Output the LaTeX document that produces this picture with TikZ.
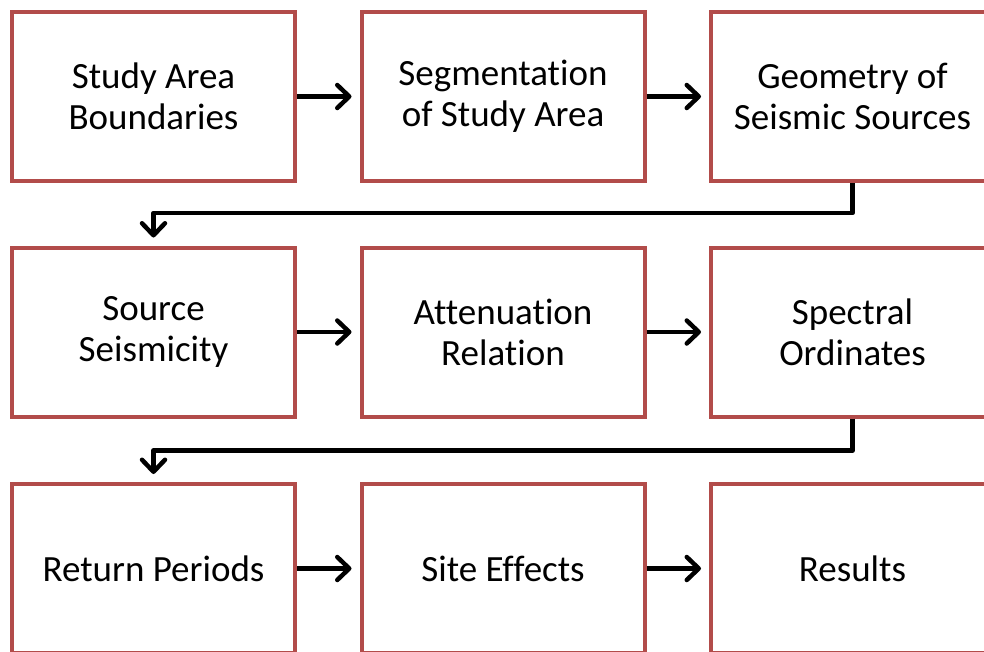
\documentclass[tikz,border=0pt]{standalone}
\usepackage{fontspec}
\setmainfont[Ligatures=NoCommon]{Carlito}
\usetikzlibrary{arrows.meta}
\definecolor{boxred}{RGB}{178,76,74}
\begin{document}
\begin{tikzpicture}[x=1pt,y=-1pt,
  stagebox/.style={draw=boxred, line width=4pt, fill=white, minimum width=283pt, minimum height=169pt,
    align=center, font=\fontsize{37}{41}\selectfont, inner sep=0pt},
  flow/.style={line width=4.5pt, shorten >=8pt, line join=round,
    -{Straight Barb[length=12pt, width=23pt, line cap=round, line join=round]}}]
\useasboundingbox (0,0) rectangle (984,651);
\node[stagebox] (a1) at (153.5,96.5) {Study Area\\Boundaries};
\node[stagebox] (a2) at (503,96.5) {Segmentation\\of Study Area};
\node[stagebox] (a3) at (852.5,96.5) {Geometry of\\Seismic Sources};
\node[stagebox] (b1) at (153.5,332) {Source\\Seismicity};
\node[stagebox] (b2) at (503,332) {Attenuation\\Relation};
\node[stagebox] (b3) at (852.5,332) {Spectral\\Ordinates};
\node[stagebox] (c1) at (153.5,568.5) {Return Periods};
\node[stagebox] (c2) at (503,568.5) {Site Effects};
\node[stagebox] (c3) at (852.5,568.5) {Results};
\draw[flow] (a1.east) -- (a2.west);
\draw[flow] (a2.east) -- (a3.west);
\draw[flow] (b1.east) -- (b2.west);
\draw[flow] (b2.east) -- (b3.west);
\draw[flow] (c1.east) -- (c2.west);
\draw[flow] (c2.east) -- (c3.west);
\draw[flow] (a3.south) -- ++(0,30) coordinate (ta) -| (b1.north);
\draw[flow] (b3.south) -- ++(0,32) coordinate (tb) -| (c1.north);
\end{tikzpicture}
\end{document}
